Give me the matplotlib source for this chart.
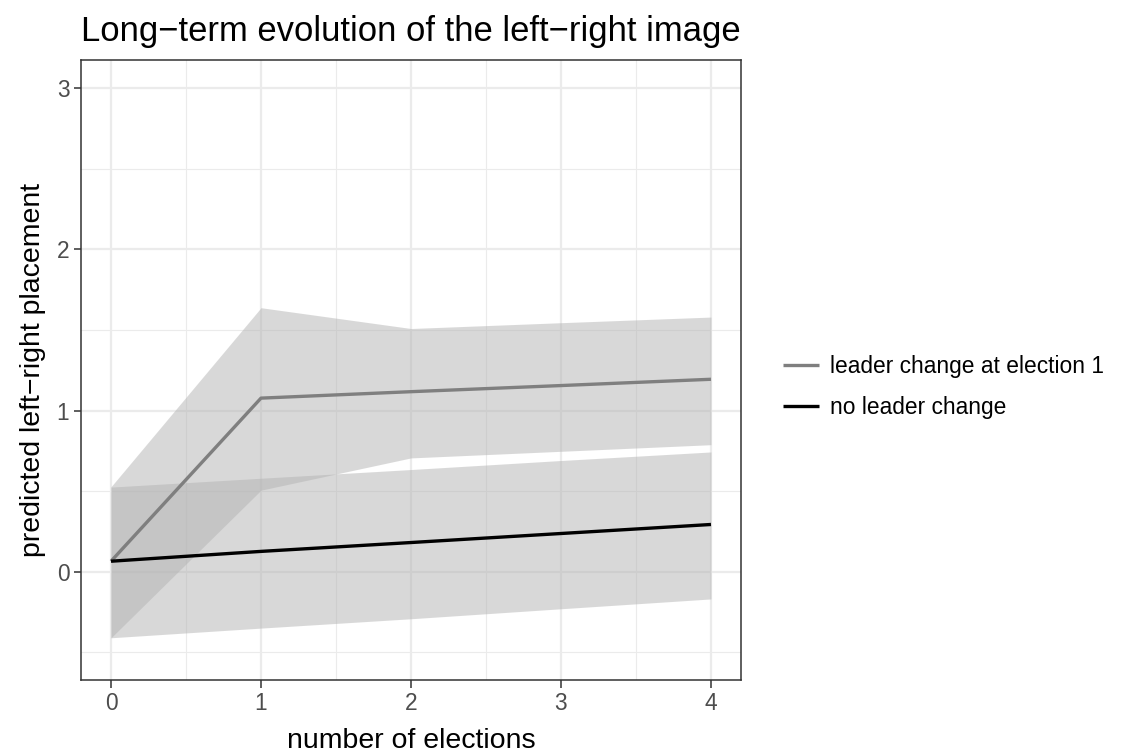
import numpy as np
import matplotlib
matplotlib.use('Agg')
import matplotlib.pyplot as plt
from matplotlib.ticker import MultipleLocator

plt.rcParams['font.family'] = ['Liberation Sans', 'DejaVu Sans']

# number of elections
elections = [0, 1, 2, 3, 4]

# leader change at election 1
change_fit = [0.065, 1.077, 1.117, 1.155, 1.194]
change_lo = [-0.41, 0.506, 0.706, 0.747, 0.788]
change_hi = [0.527, 1.638, 1.509, 1.545, 1.58]

# no leader change
nochange_fit = [0.065, 0.126, 0.181, 0.237, 0.293]
nochange_lo = [-0.41, -0.35, -0.292, -0.23, -0.169]
nochange_hi = [0.525, 0.58, 0.634, 0.69, 0.743]

labels = ['leader change at election 1', 'no leader change']
y_ticks = [0, 1, 2, 3]

fig = plt.figure(figsize=(11.22, 7.52), dpi=100)
ax = fig.add_axes([0.0722, 0.0951, 0.6604 - 0.0722, 0.9202 - 0.0951])

ax.fill_between(elections, nochange_lo, nochange_hi, color='#B3B3B3', alpha=0.5, linewidth=0)
ax.fill_between(elections, change_lo, change_hi, color='#B3B3B3', alpha=0.5, linewidth=0)
l1, = ax.plot(elections, change_fit, color='#7F7F7F', linewidth=2.4, solid_capstyle='butt')
l2, = ax.plot(elections, nochange_fit, color='black', linewidth=2.4, solid_capstyle='butt')

ax.set_xlim(-0.2, 4.2)
ax.set_ylim(-0.675, 3.175)
ax.set_xticks(elections)
ax.set_yticks(y_ticks)
ax.xaxis.set_minor_locator(MultipleLocator(0.5))
ax.yaxis.set_minor_locator(MultipleLocator(0.5))
ax.set_axisbelow(True)
ax.grid(which='major', color='#EBEBEB', linewidth=1.6)
ax.grid(which='minor', color='#EBEBEB', linewidth=0.8)
ax.tick_params(which='major', length=5.4, width=1.1, color='#333333',
               labelsize=16.4, labelcolor='#4D4D4D', pad=3)
ax.tick_params(which='minor', length=0)
for s in ax.spines.values():
    s.set_color('#333333')
    s.set_linewidth(1.1)

ax.set_xlabel('number of elections', fontsize=20.5, labelpad=9)
ax.set_ylabel('predicted left\u2212right placement', fontsize=20.5, labelpad=8)
fig.text(81 / 1122, 1 - 31 / 752, 'Long\u2212term evolution of the left\u2212right image',
         fontsize=24.9, ha='left', va='center')

fig.legend([l1, l2], labels, loc='center left', bbox_to_anchor=(783 / 1122, 1 - 387 / 752),
           frameon=False, fontsize=16.4, borderpad=0, borderaxespad=0,
           handlelength=1.6, handletextpad=0.45, labelspacing=0.8)

fig.savefig('out.png', dpi=100)
